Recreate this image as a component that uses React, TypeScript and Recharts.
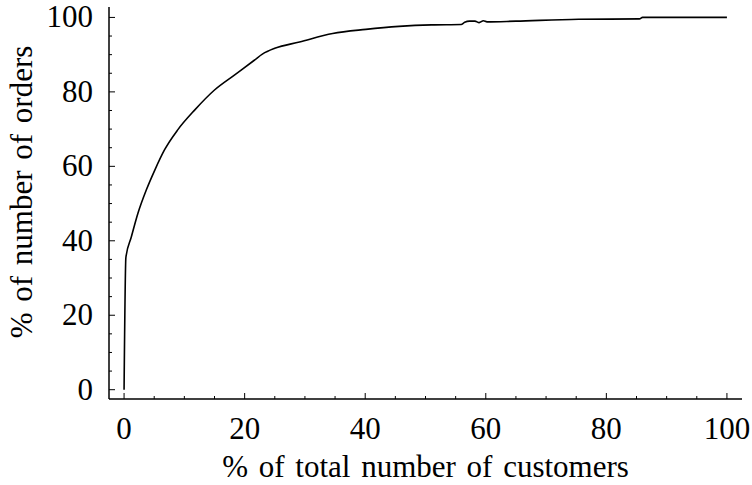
import { LineChart, Line, XAxis, YAxis } from 'recharts';

// cumulative share of orders vs share of customers
const customerPct = [
  0, 0.3, 1.2, 2.3, 3.7, 5.1, 6.7, 8.9, 11.7, 15, 18.3, 21.6, 23, 25, 29.1,
  34.6, 40.1, 45.6, 51, 55.9, 56.5, 57.3, 58.2, 58.9, 59.6, 60.2, 65, 75.4, 85.5, 86, 100,
];
const orderPct = [
  0, 35.5, 41, 47.4, 53.7, 59, 64.4, 69.8, 75.1, 80.5, 84.5, 88.5, 90.2, 91.7, 93.4,
  95.7, 96.8, 97.6, 98.0, 98.1, 98.7, 99.0, 99.0, 98.6, 99.1, 98.8, 99.0, 99.5, 99.6, 100, 100,
];

const xTicks = [0, 5, 10, 15, 20, 25, 30, 35, 40, 45, 50, 55, 60, 65, 70, 75, 80, 85, 90, 95, 100];
const yTicks = [0, 5, 10, 15, 20, 25, 30, 35, 40, 45, 50, 55, 60, 65, 70, 75, 80, 85, 90, 95, 100];

const data = customerPct.map((x, i) => ({ x, y: orderPct[i] }));

const SERIF =
  "'Liberation Serif', 'Times New Roman', Times, Tinos, 'Noto Serif', 'Nimbus Roman', FreeSerif, 'DejaVu Serif', serif";
const textStyle = { fontFamily: SERIF, fontSize: 31, fill: '#000' };
const isMajor = (v: number) => v % 20 === 0;
const tickLen = (v: number) => (isMajor(v) ? 6 : 3);

const BottomTick = ({ x, y, payload }: any) => (
  <g>
    <line x1={x} y1={y} x2={x} y2={y - tickLen(payload.value)} stroke="#000" />
    {isMajor(payload.value) && (
      <text x={x} y={y + 40} textAnchor="middle" style={textStyle}>
        {payload.value}
      </text>
    )}
  </g>
);

const TopTick = ({ x, y, payload }: any) => (
  <line x1={x} y1={y} x2={x} y2={y + tickLen(payload.value)} stroke="#000" />
);

const LeftTick = ({ x, y, payload }: any) => (
  <g>
    <line x1={x} y1={y} x2={x + tickLen(payload.value)} y2={y} stroke="#000" />
    {isMajor(payload.value) && (
      <text x={x - 16} y={y + 10} textAnchor="end" style={textStyle}>
        {payload.value}
      </text>
    )}
  </g>
);

const RightTick = ({ x, y, payload }: any) => (
  <line x1={x} y1={y} x2={x - tickLen(payload.value)} y2={y} stroke="#000" />
);

const XTitle = ({ viewBox }: any) => (
  <text
    x={viewBox.x + viewBox.width / 2}
    y={477}
    textAnchor="middle"
    style={{ ...textStyle, wordSpacing: 3 }}
  >
    % of total number of customers
  </text>
);

const YTitle = () => (
  <text
    x={0}
    y={0}
    transform="translate(32, 192) rotate(-90)"
    textAnchor="middle"
    style={{ ...textStyle, wordSpacing: 3 }}
  >
    % of number of orders
  </text>
);

export default function App() {
  return (
    <div style={{ position: 'absolute', left: 0, top: 0, background: '#fff' }}>
      <LineChart width={752} height={485} data={data} margin={{ top: 7, right: 10, bottom: 0, left: 0 }}>
        <XAxis
          xAxisId="b"
          dataKey="x"
          type="number"
          domain={[-2.5, 102.5]}
          ticks={xTicks}
          interval={0}
          height={86}
          tickSize={0}
          tickMargin={0}
          tickLine={false}
          tick={<BottomTick />}
          axisLine={{ stroke: '#000', strokeWidth: 1.5 }}
          label={<XTitle />}
        />
        <XAxis
          xAxisId="t"
          orientation="top"
          dataKey="x"
          type="number"
          domain={[-2.5, 102.5]}
          ticks={xTicks}
          interval={0}
          height={0}
          tickSize={0}
          tickMargin={0}
          tickLine={false}
          tick={<TopTick />}
          axisLine={{ stroke: '#000', strokeWidth: 1.5 }}
        />
        <YAxis
          yAxisId="l"
          type="number"
          domain={[-2.5, 102.8]}
          ticks={yTicks}
          interval={0}
          width={109}
          tickSize={0}
          tickMargin={0}
          tickLine={false}
          tick={<LeftTick />}
          axisLine={{ stroke: '#000', strokeWidth: 1.5 }}
          label={<YTitle />}
        />
        <YAxis
          yAxisId="r"
          orientation="right"
          type="number"
          domain={[-2.5, 102.8]}
          ticks={yTicks}
          interval={0}
          width={0}
          tickSize={0}
          tickMargin={0}
          tickLine={false}
          tick={<RightTick />}
          axisLine={{ stroke: '#000', strokeWidth: 1.5 }}
        />
        <Line
          xAxisId="b"
          yAxisId="l"
          type="monotone"
          dataKey="y"
          stroke="#000"
          strokeWidth={1.6}
          dot={false}
          isAnimationActive={false}
        />
      </LineChart>
    </div>
  );
}
